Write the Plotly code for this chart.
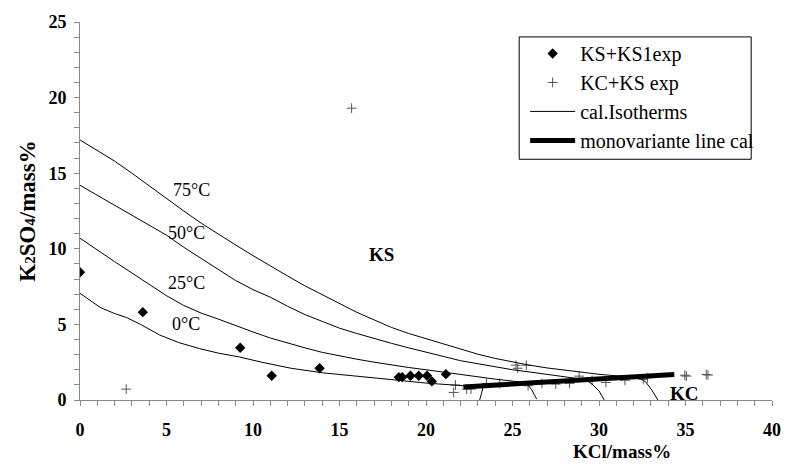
import plotly.graph_objects as go

# ---------------- data ----------------
iso75_x = [0, 1, 2, 3, 4, 5, 6, 7, 8, 9, 10, 11, 12, 13, 14, 15, 16, 17, 18, 19, 20, 21, 22, 23, 24, 25, 26, 27, 28, 29, 30, 31, 32.2, 32.7, 33.05, 33.4]
iso75_y = [17.2, 16.5, 15.8, 15.0, 14.15, 13.3, 12.5, 11.7, 10.95, 10.25, 9.55, 8.85, 8.2, 7.55, 6.95, 6.35, 5.8, 5.3, 4.8, 4.4, 4.05, 3.68, 3.35, 3.03, 2.75, 2.5, 2.3, 2.12, 1.97, 1.83, 1.7, 1.6, 1.53, 1.2, 0.66, 0.0]

iso50_x = [0, 1, 2, 3, 4, 5, 6, 7, 8, 9, 10, 11, 12, 13, 14, 15, 16, 17, 18, 19, 20, 21, 22, 23, 24, 25, 26, 27, 28, 29.2, 29.6, 30.0, 30.3]
iso50_y = [14.2, 13.55, 12.9, 12.2, 11.55, 10.9, 10.1, 9.35, 8.6, 7.9, 7.3, 6.8, 6.2, 5.65, 5.2, 4.75, 4.4, 4.05, 3.75, 3.45, 3.15, 2.85, 2.6, 2.4, 2.2, 2.0, 1.85, 1.7, 1.58, 1.35, 1.05, 0.6, 0.0]

iso25_x = [0, 1, 2, 3, 4, 5, 6, 7, 8, 9, 10, 11, 12, 13, 14, 15, 16, 17, 18, 19, 20, 21, 22, 23, 24, 25, 25.8, 26.1, 26.4]
iso25_y = [10.7, 9.9, 9.15, 8.4, 7.65, 6.9, 6.25, 5.75, 5.35, 4.9, 4.5, 4.1, 3.75, 3.45, 3.15, 2.9, 2.7, 2.5, 2.3, 2.15, 2.0, 1.85, 1.65, 1.5, 1.38, 1.25, 1.12, 0.7, 0.05]

iso0_x = [0, 0.6, 1.2, 2, 2.7, 3.5, 4.6, 5.7, 6.9, 8, 9.2, 10.5, 12.2, 14, 16, 18, 20, 21.5, 23.3, 23.2, 23.1]
iso0_y = [7.05, 6.55, 6.1, 5.72, 5.45, 5.0, 4.3, 3.8, 3.4, 3.1, 2.85, 2.5, 2.1, 1.8, 1.55, 1.35, 1.12, 1.0, 0.85, 0.4, 0.0]

mono_x = [22.16, 25, 28, 31, 34.35]
mono_y = [0.86, 1.05, 1.27, 1.48, 1.69]

ks_x = [0, 3.63, 9.26, 11.08, 13.85, 18.43, 18.62, 19.1, 19.58, 20.06, 20.34, 21.15]
ks_y = [8.45, 5.81, 3.46, 1.6, 2.1, 1.51, 1.51, 1.6, 1.6, 1.6, 1.23, 1.71]

kc_x = [2.67, 15.7, 21.6, 21.7, 22.35, 22.6, 23.5, 24.26, 25.2, 25.3, 25.8, 25.9, 26.7, 27.5, 28.3, 28.85, 29.6, 30.4, 31.5, 32.56, 32.8, 34.96, 35.05, 36.2, 36.3]
kc_y = [0.72, 19.3, 0.5, 0.99, 0.72, 0.72, 1.1, 1.1, 2.3, 2.1, 2.3, 0.94, 1.1, 1.05, 1.1, 1.58, 1.3, 1.16, 1.3, 1.36, 1.47, 1.64, 1.58, 1.69, 1.65]

iso_labels = ["75°C", "50°C", "25°C", "0°C"]
iso_label_x = [6.45, 6.15, 6.15, 6.15]
iso_label_y = [13.9, 11.05, 7.76, 5.0]

SERIF = "Liberation Serif"

fig = go.Figure()

fig.add_trace(go.Scatter(x=ks_x, y=ks_y, mode="markers", name="KS+KS1exp",
                         legendgroup="a",
                         marker=dict(symbol="diamond", size=8, color="black")))
fig.add_trace(go.Scatter(x=kc_x, y=kc_y, mode="markers", name="KC+KS exp",
                         legendgroup="b",
                         marker=dict(symbol="cross-thin", size=7, color="#555",
                                     line=dict(width=1, color="#555"))))
first = True
for xs, ys in [(iso75_x, iso75_y), (iso50_x, iso50_y), (iso25_x, iso25_y), (iso0_x, iso0_y)]:
    fig.add_trace(go.Scatter(x=xs, y=ys, mode="lines", name="cal.Isotherms",
                             legendgroup="c", showlegend=first,
                             line=dict(color="black", width=1)))
    first = False
fig.add_trace(go.Scatter(x=mono_x, y=mono_y, mode="lines", name="monovariante line cal",
                         legendgroup="d",
                         line=dict(color="black", width=5)))

for t, x, y in zip(iso_labels, iso_label_x, iso_label_y):
    fig.add_annotation(x=x, y=y, text=t, showarrow=False,
                       font=dict(family=SERIF, size=18, color="black"))
fig.add_annotation(x=17.4, y=9.6, text="<b>KS</b>", showarrow=False,
                   font=dict(family=SERIF, size=19, color="black"))
fig.add_annotation(x=34.95, y=0.4, text="<b>KC</b>", showarrow=False,
                   font=dict(family=SERIF, size=19, color="black"))
fig.add_annotation(x=(627 - 80) / 698, y=-0.137, xref="paper", yref="paper",
                   xanchor="center", yanchor="middle",
                   text="<b>KCl/mass%</b>",
                   showarrow=False, font=dict(family=SERIF, size=19, color="black"))

# legend frame
fig.add_shape(type="rect", xref="paper", yref="paper",
              x0=(523 - 80) / 698, x1=(757 - 80) / 698,
              y0=(400 - 158) / 380, y1=(400 - 35) / 380,
              line=dict(color="black", width=1), fillcolor="white", layer="below")

axis_common = dict(showgrid=False, zeroline=False, showline=True, linecolor="#888",
                   linewidth=1, ticks="outside", ticklen=5, tickcolor="#888",
                   tickfont=dict(family=SERIF, size=18, color="black", weight="bold"),
                   minor=dict(ticks="outside", ticklen=5, tickcolor="#888", dtick=1))

fig.update_xaxes(range=[0, 40], dtick=5, tick0=0, ticklabelstandoff=8, **axis_common)
fig.update_yaxes(range=[0, 25], dtick=5, tick0=0, ticklabelstandoff=4,
                 title=dict(text="<b>K<span style='font-size:15px'>2</span>SO<span style='font-size:15px'>4</span>/mass%</b>",
                            standoff=6,
                            font=dict(family=SERIF, size=23, color="black")),
                 **axis_common)

fig.update_layout(
    width=793, height=464,
    margin=dict(l=80, r=15, t=20, b=64),
    paper_bgcolor="white", plot_bgcolor="white",
    font=dict(family=SERIF, color="black"),
    legend=dict(x=(529 - 80) / 698, y=(400 - 32) / 380, xanchor="left", yanchor="top",
                borderwidth=0, bgcolor="rgba(0,0,0,0)",
                font=dict(family=SERIF, size=20, color="black"),
                itemwidth=45,
                traceorder="grouped", tracegroupgap=0),
)

fig.write_html("out.html")
